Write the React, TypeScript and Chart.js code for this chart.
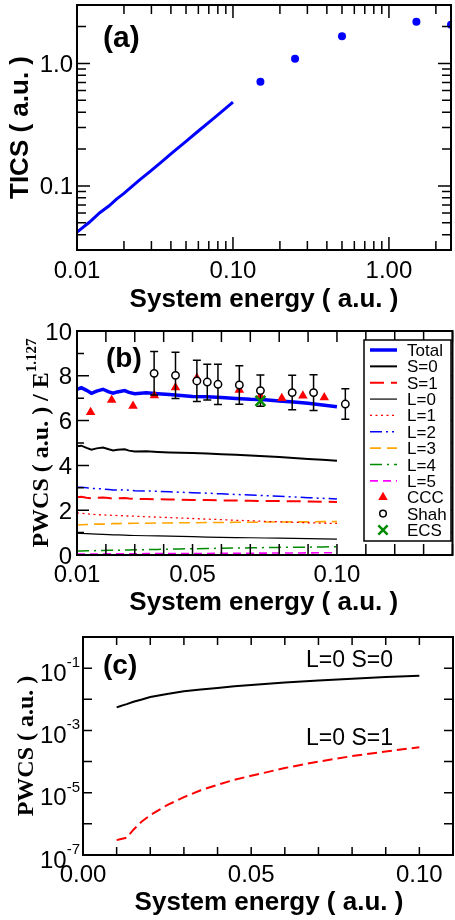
import React, { useEffect, useRef } from "react";
import { Chart, registerables } from "chart.js";
Chart.register(...registerables);

const SANS = '"Liberation Sans", Arial, Helvetica, sans-serif';
const SERIF = '"Liberation Serif", "Times New Roman", Times, serif';

// ---------------- Panel (a): TICS ----------------
const A_LINE_E = [0.01, 0.012, 0.014, 0.016, 0.018, 0.02, 0.025, 0.03, 0.035, 0.04, 0.05, 0.06, 0.07, 0.08, 0.09, 0.1];
const A_LINE_TICS = [0.042, 0.0505, 0.0605, 0.0685, 0.0785, 0.087, 0.111, 0.134, 0.158, 0.183, 0.231, 0.281, 0.33, 0.381, 0.431, 0.484];
const A_DOT_E = [0.15, 0.25, 0.5, 1.5, 2.5];
const A_DOT_TICS = [0.71, 1.09, 1.67, 2.19, 2.07];
const A_X_TICKS = [0.01, 0.1, 1];
const A_X_LABELS = ["0.01", "0.10", "1.00"];
const A_Y_TICKS = [0.1, 1];
const A_Y_LABELS = ["0.1", "1.0"];

// ---------------- Panel (b): PWCS / E^1.127 ----------------
const B_E = [0.01, 0.0115, 0.0133, 0.015, 0.0168, 0.019, 0.021, 0.0225, 0.024, 0.0265, 0.028, 0.03, 0.034, 0.038, 0.042, 0.046, 0.05, 0.055, 0.06, 0.065, 0.07, 0.075, 0.08, 0.085, 0.09, 0.095, 0.1];
const B_TOTAL = [7.4, 7.47, 7.35, 7.22, 7.32, 7.4, 7.28, 7.22, 7.28, 7.34, 7.26, 7.2, 7.24, 7.2, 7.16, 7.12, 7.08, 7.07, 7.03, 6.99, 6.95, 6.93, 6.88, 6.83, 6.77, 6.7, 6.62];
const B_S0 = [4.85, 4.88, 4.78, 4.7, 4.76, 4.8, 4.72, 4.67, 4.7, 4.72, 4.66, 4.62, 4.63, 4.6, 4.58, 4.56, 4.55, 4.53, 4.5, 4.47, 4.44, 4.41, 4.37, 4.33, 4.29, 4.25, 4.21];
const B_S1 = [2.58, 2.6, 2.56, 2.53, 2.55, 2.57, 2.54, 2.52, 2.53, 2.54, 2.52, 2.5, 2.5, 2.49, 2.48, 2.47, 2.46, 2.45, 2.44, 2.43, 2.42, 2.41, 2.41, 2.4, 2.39, 2.38, 2.37];
const B_L0 = [0.97, 0.96, 0.95, 0.94, 0.93, 0.92, 0.91, 0.9, 0.9, 0.89, 0.88, 0.87, 0.86, 0.85, 0.84, 0.83, 0.82, 0.8, 0.79, 0.78, 0.77, 0.76, 0.75, 0.74, 0.73, 0.72, 0.71];
const B_L1 = [1.88, 1.86, 1.84, 1.82, 1.8, 1.79, 1.78, 1.77, 1.76, 1.75, 1.74, 1.73, 1.71, 1.69, 1.67, 1.65, 1.63, 1.6, 1.58, 1.55, 1.53, 1.5, 1.48, 1.46, 1.44, 1.42, 1.41];
const B_L2 = [3.02, 3.03, 3.0, 2.97, 2.96, 2.95, 2.92, 2.9, 2.9, 2.91, 2.89, 2.87, 2.86, 2.84, 2.82, 2.8, 2.78, 2.76, 2.73, 2.7, 2.68, 2.65, 2.62, 2.59, 2.56, 2.53, 2.5];
const B_L3 = [1.34, 1.35, 1.36, 1.37, 1.38, 1.38, 1.39, 1.4, 1.4, 1.41, 1.41, 1.42, 1.42, 1.43, 1.43, 1.44, 1.44, 1.45, 1.45, 1.46, 1.46, 1.47, 1.47, 1.48, 1.48, 1.49, 1.49];
const B_L4 = [0.18, 0.18, 0.19, 0.19, 0.2, 0.2, 0.21, 0.21, 0.21, 0.22, 0.22, 0.23, 0.24, 0.25, 0.26, 0.27, 0.28, 0.29, 0.3, 0.31, 0.32, 0.33, 0.34, 0.35, 0.35, 0.36, 0.37];
const B_L5 = [0.04, 0.04, 0.04, 0.04, 0.045, 0.045, 0.05, 0.05, 0.05, 0.05, 0.055, 0.055, 0.06, 0.06, 0.065, 0.065, 0.07, 0.07, 0.075, 0.08, 0.08, 0.085, 0.09, 0.09, 0.095, 0.1, 0.1];
const CCC_E = [0.0147, 0.022, 0.0294, 0.0368, 0.0441, 0.0515, 0.0662, 0.0735, 0.0809, 0.0882, 0.0956];
const CCC_V = [6.37, 6.92, 6.65, 7.12, 7.48, 7.9, 7.37, 7.1, 7.0, 7.11, 7.03];
const SHAH_E = [0.0367, 0.0441, 0.0515, 0.0551, 0.0588, 0.0662, 0.0735, 0.0845, 0.0919, 0.1029];
const SHAH_V = [8.11, 8.02, 7.77, 7.72, 7.62, 7.59, 7.34, 7.25, 7.25, 6.74];
const SHAH_ERR = [0.97, 1.03, 0.92, 0.8, 0.9, 0.86, 0.7, 0.77, 0.8, 0.68];
const ECS_E = [0.0735];
const ECS_V = [6.88];
const B_X_TICKS = [0.01, 0.05, 0.1];
const B_X_LABELS = ["0.01", "0.05", "0.10"];
const B_Y_TICKS = [0, 2, 4, 6, 8, 10];
const B_Y_LABELS = ["0", "2", "4", "6", "8", "10"];
const B_LEGEND = ["Total", "S=0", "S=1", "L=0", "L=1", "L=2", "L=3", "L=4", "L=5", "CCC", "Shah", "ECS"];

// ---------------- Panel (c): L=0 PWCS ----------------
const C_E = [0.01, 0.011, 0.012, 0.013, 0.015, 0.0175, 0.02, 0.025, 0.03, 0.035, 0.04, 0.045, 0.05, 0.06, 0.07, 0.08, 0.09, 0.1];
const C_L0S0 = [5.5e-3, 6.0e-3, 6.5e-3, 7.0e-3, 8.3e-3, 9.8e-3, 0.0118, 0.0148, 0.018, 0.0205, 0.023, 0.026, 0.029, 0.0345, 0.04, 0.046, 0.0515, 0.057];
const C_L0S1 = [3.0e-7, 3.2e-7, 3.4e-7, 3.6e-7, 6.5e-7, 1.2e-6, 1.9e-6, 4.0e-6, 7.2e-6, 1.2e-5, 1.8e-5, 2.6e-5, 3.5e-5, 6.2e-5, 1.0e-4, 1.5e-4, 2.1e-4, 2.9e-4];
const C_X_TICKS = [0, 0.05, 0.1];
const C_X_LABELS = ["0.00", "0.05", "0.10"];
const C_Y_EXPONENTS = [-1, -3, -5, -7];

// ---------------- helpers ----------------
type Mark = { v: number; len: number };

const pts = (xs: number[], ys: number[]) => xs.map((x, i) => ({ x, y: ys[i] }));

function logMarks(min: number, max: number, major: number, minor: number, withMinor = true): Mark[] {
  const out: Mark[] = [];
  for (let e = Math.floor(Math.log10(min)); e <= Math.ceil(Math.log10(max)); e++) {
    for (let k = 1; k <= (withMinor ? 9 : 1); k++) {
      const v = k * Math.pow(10, e);
      if (v >= min * 0.9999 && v <= max * 1.0001) out.push({ v, len: k === 1 ? major : minor });
    }
  }
  return out;
}

function linMarks(start: number, step: number, count: number, lenFn: (i: number) => number): Mark[] {
  const out: Mark[] = [];
  for (let i = 0; i <= count; i++) out.push({ v: start + i * step, len: lenFn(i) });
  return out;
}

function drawFrame(chart: any, xMarks: Mark[], yMarks: Mark[]) {
  const { ctx, chartArea: a } = chart;
  const xs = chart.scales.x;
  const ys = chart.scales.y;
  ctx.save();
  ctx.setLineDash([]);
  ctx.strokeStyle = "#000";
  ctx.lineWidth = 1.5;
  ctx.beginPath();
  for (const m of xMarks) {
    const p = xs.getPixelForValue(m.v);
    if (p < a.left - 0.5 || p > a.right + 0.5) continue;
    ctx.moveTo(p, a.bottom);
    ctx.lineTo(p, a.bottom - m.len);
    ctx.moveTo(p, a.top);
    ctx.lineTo(p, a.top + m.len);
  }
  for (const m of yMarks) {
    const p = ys.getPixelForValue(m.v);
    if (p < a.top - 0.5 || p > a.bottom + 0.5) continue;
    ctx.moveTo(a.left, p);
    ctx.lineTo(a.left + m.len, p);
    ctx.moveTo(a.right, p);
    ctx.lineTo(a.right - m.len, p);
  }
  ctx.stroke();
  ctx.lineWidth = 2;
  ctx.strokeRect(a.left, a.top, a.right - a.left, a.bottom - a.top);
  ctx.restore();
}

function text(ctx: CanvasRenderingContext2D, s: string, x: number, y: number, font: string, align: CanvasTextAlign = "left", color = "#000") {
  ctx.font = font;
  ctx.textAlign = align;
  ctx.textBaseline = "alphabetic";
  ctx.fillStyle = color;
  ctx.fillText(s, x, y);
}

type Part = { s: string; font: string; dy: number };
function vtext(ctx: CanvasRenderingContext2D, parts: Part[], baseX: number, centerY: number) {
  ctx.save();
  ctx.translate(baseX, centerY);
  ctx.rotate(-Math.PI / 2);
  ctx.textAlign = "left";
  ctx.textBaseline = "alphabetic";
  ctx.fillStyle = "#000";
  let total = 0;
  const widths = parts.map((p) => {
    ctx.font = p.font;
    const w = ctx.measureText(p.s).width;
    total += w;
    return w;
  });
  let x = -total / 2;
  parts.forEach((p, i) => {
    ctx.font = p.font;
    ctx.fillText(p.s, x, p.dy);
    x += widths[i];
  });
  ctx.restore();
}

function xLabels(chart: any, ticks: number[], labels: string[], baseline: number, font: string) {
  const xs = chart.scales.x;
  ticks.forEach((v, i) => text(chart.ctx, labels[i], xs.getPixelForValue(v), baseline, font, "center"));
}

function yLabels(chart: any, ticks: number[], labels: string[], right: number, dy: number, font: string) {
  const ys = chart.scales.y;
  ticks.forEach((v, i) => text(chart.ctx, labels[i], right, ys.getPixelForValue(v) + dy, font, "right"));
}

function drawMarker(ctx: CanvasRenderingContext2D, style: string, x: number, y: number, r: number, fill: string, stroke: string, lw: number) {
  ctx.save();
  ctx.setLineDash([]);
  ctx.beginPath();
  if (style === "triangle") {
    let rad = 0;
    ctx.moveTo(x + Math.sin(rad) * r, y - Math.cos(rad) * r);
    rad += (2 * Math.PI) / 3;
    ctx.lineTo(x + Math.sin(rad) * r, y - Math.cos(rad) * r);
    rad += (2 * Math.PI) / 3;
    ctx.lineTo(x + Math.sin(rad) * r, y - Math.cos(rad) * r);
    ctx.closePath();
    ctx.fillStyle = fill;
    ctx.fill();
  } else if (style === "circle") {
    ctx.arc(x, y, r, 0, Math.PI * 2);
    ctx.fillStyle = fill;
    ctx.fill();
    ctx.lineWidth = lw;
    ctx.strokeStyle = stroke;
    ctx.stroke();
  } else if (style === "crossRot") {
    const d = r * Math.cos(Math.PI / 4);
    ctx.moveTo(x - d, y - d);
    ctx.lineTo(x + d, y + d);
    ctx.moveTo(x - d, y + d);
    ctx.lineTo(x + d, y - d);
    ctx.lineWidth = lw;
    ctx.strokeStyle = stroke;
    ctx.stroke();
  }
  ctx.restore();
}

const TICK_FONT = `24px ${SANS}`;
const TITLE_FONT = `bold 26px ${SANS}`;

// ---------------- configs ----------------
function baseOptions(padding: any, x: any, y: any) {
  return {
    animation: false,
    responsive: false,
    maintainAspectRatio: false,
    events: [],
    layout: { padding },
    plugins: { legend: { display: false }, tooltip: { enabled: false } },
    scales: { x: { ...x, display: false }, y: { ...y, display: false } },
  };
}

function lineDs(label: string, xs: number[], ys: number[], color: string, width: number, dash: number[] = [], order = 2) {
  return {
    label,
    data: pts(xs, ys),
    showLine: true,
    borderColor: color,
    backgroundColor: color,
    borderWidth: width,
    borderDash: dash,
    pointRadius: 0,
    tension: 0,
    fill: false,
    order,
  };
}

function makeA(): any {
  return {
    type: "scatter",
    data: {
      datasets: [
        {
          label: "points",
          data: pts(A_DOT_E, A_DOT_TICS),
          pointRadius: 4,
          pointBackgroundColor: "#0000ff",
          pointBorderColor: "#0000ff",
          pointBorderWidth: 0,
          order: 0,
        },
        lineDs("TICS", A_LINE_E, A_LINE_TICS, "#0000ff", 3, [], 1),
      ],
    },
    options: baseOptions(
      { left: 77, top: 5, right: 2, bottom: 70 },
      { type: "logarithmic", min: 0.01, max: 2.5 },
      { type: "logarithmic", min: 0.03, max: 3 }
    ),
    plugins: [
      {
        id: "axesA",
        afterDraw(chart: any) {
          const ctx = chart.ctx;
          const a = chart.chartArea;
          drawFrame(chart, logMarks(0.01, 2.5, 13, 9), logMarks(0.03, 3, 13, 9));
          xLabels(chart, A_X_TICKS, A_X_LABELS, 278, TICK_FONT);
          yLabels(chart, A_Y_TICKS, A_Y_LABELS, 73, 8.5, TICK_FONT);
          text(ctx, "System energy ( a.u. )", (a.left + a.right) / 2, 307, TITLE_FONT, "center");
          vtext(ctx, [{ s: "TICS ( a.u. )", font: TITLE_FONT, dy: 0 }], 28, (a.top + a.bottom) / 2);
          text(ctx, "(a)", 103, 47, `bold 30px ${SANS}`);
        },
      },
    ],
  };
}

function makeB(): any {
  return {
    type: "scatter",
    data: {
      datasets: [
        {
          label: "ECS",
          data: pts(ECS_E, ECS_V),
          pointStyle: "crossRot",
          pointRadius: 7,
          pointBorderColor: "#008b00",
          pointBackgroundColor: "#008b00",
          pointBorderWidth: 2.5,
          order: -1,
        },
        {
          label: "Shah",
          data: pts(SHAH_E, SHAH_V),
          pointStyle: "circle",
          pointRadius: 3.7,
          pointBackgroundColor: "#ffffff",
          pointBorderColor: "#000000",
          pointBorderWidth: 1.5,
          order: 0,
        },
        {
          label: "CCC",
          data: pts(CCC_E, CCC_V),
          pointStyle: "triangle",
          pointRadius: 5.5,
          pointBackgroundColor: "#ff0000",
          pointBorderColor: "#ff0000",
          pointBorderWidth: 0,
          order: 1,
        },
        lineDs("Total", B_E, B_TOTAL, "#0000ff", 3.5),
        lineDs("S=0", B_E, B_S0, "#000000", 2),
        lineDs("S=1", B_E, B_S1, "#ff0000", 2, [14, 7]),
        lineDs("L=0", B_E, B_L0, "#000000", 1.2),
        lineDs("L=1", B_E, B_L1, "#ff0000", 1.3, [2, 3.5]),
        lineDs("L=2", B_E, B_L2, "#0000ff", 1.5, [12, 4, 2, 4, 2, 4]),
        lineDs("L=3", B_E, B_L3, "#ffa500", 1.6, [11, 6]),
        lineDs("L=4", B_E, B_L4, "#008b00", 1.5, [12, 5, 2, 5]),
        lineDs("L=5", B_E, B_L5, "#ff00ff", 1.6, [8, 5]),
      ],
    },
    options: baseOptions(
      { left: 77, top: 31, right: 4, bottom: 65 },
      { type: "linear", min: 0.01, max: 0.14 },
      { type: "linear", min: 0, max: 10 }
    ),
    plugins: [
      {
        id: "errorBars",
        beforeDatasetDraw(chart: any, args: any) {
          const ds = chart.data.datasets[args.index];
          if (ds.label !== "Shah") return;
          const ctx = chart.ctx;
          const xs = chart.scales.x;
          const ys = chart.scales.y;
          ctx.save();
          ctx.setLineDash([]);
          ctx.strokeStyle = "#000";
          ctx.lineWidth = 1.5;
          ctx.beginPath();
          SHAH_E.forEach((e, i) => {
            const px = xs.getPixelForValue(e);
            const pt = ys.getPixelForValue(SHAH_V[i] + SHAH_ERR[i]);
            const pb = ys.getPixelForValue(SHAH_V[i] - SHAH_ERR[i]);
            ctx.moveTo(px, pt);
            ctx.lineTo(px, pb);
            ctx.moveTo(px - 4, pt);
            ctx.lineTo(px + 4, pt);
            ctx.moveTo(px - 4, pb);
            ctx.lineTo(px + 4, pb);
          });
          ctx.stroke();
          ctx.restore();
        },
      },
      {
        id: "axesB",
        afterDraw(chart: any) {
          const ctx = chart.ctx;
          const a = chart.chartArea;
          drawFrame(
            chart,
            linMarks(0.01, 0.01, 13, () => 11),
            linMarks(0, 1, 10, (i) => (i % 2 === 0 ? 12 : 7))
          );
          xLabels(chart, B_X_TICKS, B_X_LABELS, 282, TICK_FONT);
          yLabels(chart, B_Y_TICKS, B_Y_LABELS, 72, 8.5, TICK_FONT);
          text(ctx, "System energy ( a.u. )", (a.left + a.right) / 2 - 1, 310, TITLE_FONT, "center");
          vtext(
            ctx,
            [
              { s: "PWCS ( a.u. ) / E", font: `bold 24px ${SERIF}`, dy: 0 },
              { s: "1.127", font: `bold 15px ${SERIF}`, dy: -12 },
            ],
            48,
            (a.top + a.bottom) / 2
          );
          text(ctx, "(b)", 106, 67, `bold 28px ${SANS}`);

          // legend box
          const bx0 = 364, bx1 = 451, by0 = 40, by1 = 241;
          ctx.save();
          ctx.fillStyle = "#fff";
          ctx.fillRect(bx0, by0, bx1 - bx0, by1 - by0);
          ctx.setLineDash([]);
          ctx.lineWidth = 1.5;
          ctx.strokeStyle = "#000";
          ctx.strokeRect(bx0, by0, bx1 - bx0, by1 - by0);
          B_LEGEND.forEach((lab, i) => {
            const ds = chart.data.datasets.find((d: any) => d.label === lab);
            const y = 50 + i * 16.36;
            if (ds.showLine) {
              ctx.save();
              ctx.beginPath();
              ctx.strokeStyle = ds.borderColor;
              ctx.lineWidth = ds.borderWidth;
              ctx.setLineDash(ds.borderDash || []);
              ctx.moveTo(370, y);
              ctx.lineTo(397, y);
              ctx.stroke();
              ctx.restore();
            } else {
              drawMarker(ctx, ds.pointStyle, 383, y, ds.pointStyle === "circle" ? 3.3 : ds.pointStyle === "crossRot" ? 6.5 : 5.5, ds.pointBackgroundColor, ds.pointBorderColor, ds.pointBorderWidth || 1.5);
            }
            text(ctx, lab, 407, y + 6, `17px ${SANS}`);
          });
          ctx.restore();
        },
      },
    ],
  };
}

function makeC(): any {
  return {
    type: "scatter",
    data: {
      datasets: [
        lineDs("L=0 S=0", C_E, C_L0S0, "#000000", 2),
        lineDs("L=0 S=1", C_E, C_L0S1, "#ff0000", 2, [10, 5]),
      ],
    },
    options: baseOptions(
      { left: 83, top: 27, right: 2, bottom: 65 },
      { type: "linear", min: 0, max: 0.11 },
      { type: "logarithmic", min: 1e-7, max: 1 }
    ),
    plugins: [
      {
        id: "axesC",
        afterDraw(chart: any) {
          const ctx = chart.ctx;
          const a = chart.chartArea;
          const ys = chart.scales.y;
          drawFrame(chart, linMarks(0, 0.01, 11, () => 8), logMarks(1e-7, 1, 9, 9, false));
          xLabels(chart, C_X_TICKS, C_X_LABELS, 272, TICK_FONT);
          C_Y_EXPONENTS.forEach((n) => {
            const py = ys.getPixelForValue(Math.pow(10, n));
            const base = "10";
            const sup = String(n);
            ctx.font = TICK_FONT;
            const wb = ctx.measureText(base).width;
            ctx.font = `15px ${SANS}`;
            const ws = ctx.measureText(sup).width;
            const x0 = a.left - 3 - ws - wb;
            text(ctx, base, x0, py + 12.5, TICK_FONT);
            text(ctx, sup, x0 + wb, py - 1, `15px ${SANS}`);
          });
          text(ctx, "System energy ( a.u. )", (a.left + a.right) / 2 + 1, 300, TITLE_FONT, "center");
          vtext(ctx, [{ s: "PWCS ( a.u. )", font: `bold 24px ${SERIF}`, dy: 0 }], 33, (a.top + a.bottom) / 2);
          text(ctx, "(c)", 103, 64, `bold 28px ${SANS}`);
          text(ctx, "L=0 S=0", 306, 57, `23px ${SANS}`);
          text(ctx, "L=0 S=1", 306, 135, `23px ${SANS}`);
        },
      },
    ],
  };
}

function Panel({ top, width, height, make }: { top: number; width: number; height: number; make: () => any }) {
  const ref = useRef<HTMLCanvasElement>(null);
  useEffect(() => {
    const chart = new Chart(ref.current as HTMLCanvasElement, make());
    return () => chart.destroy();
  }, []);
  return (
    <div style={{ position: "absolute", left: 0, top, width, height }}>
      <canvas ref={ref} width={width} height={height} style={{ display: "block", width, height }} />
    </div>
  );
}

export default function App() {
  return (
    <div style={{ position: "absolute", left: 0, top: 0, width: 455, height: 920, overflow: "hidden", background: "#fff" }}>
      <Panel top={0} width={455} height={320} make={makeA} />
      <Panel top={300} width={462} height={320} make={makeB} />
      <Panel top={610} width={455} height={310} make={makeC} />
    </div>
  );
}
